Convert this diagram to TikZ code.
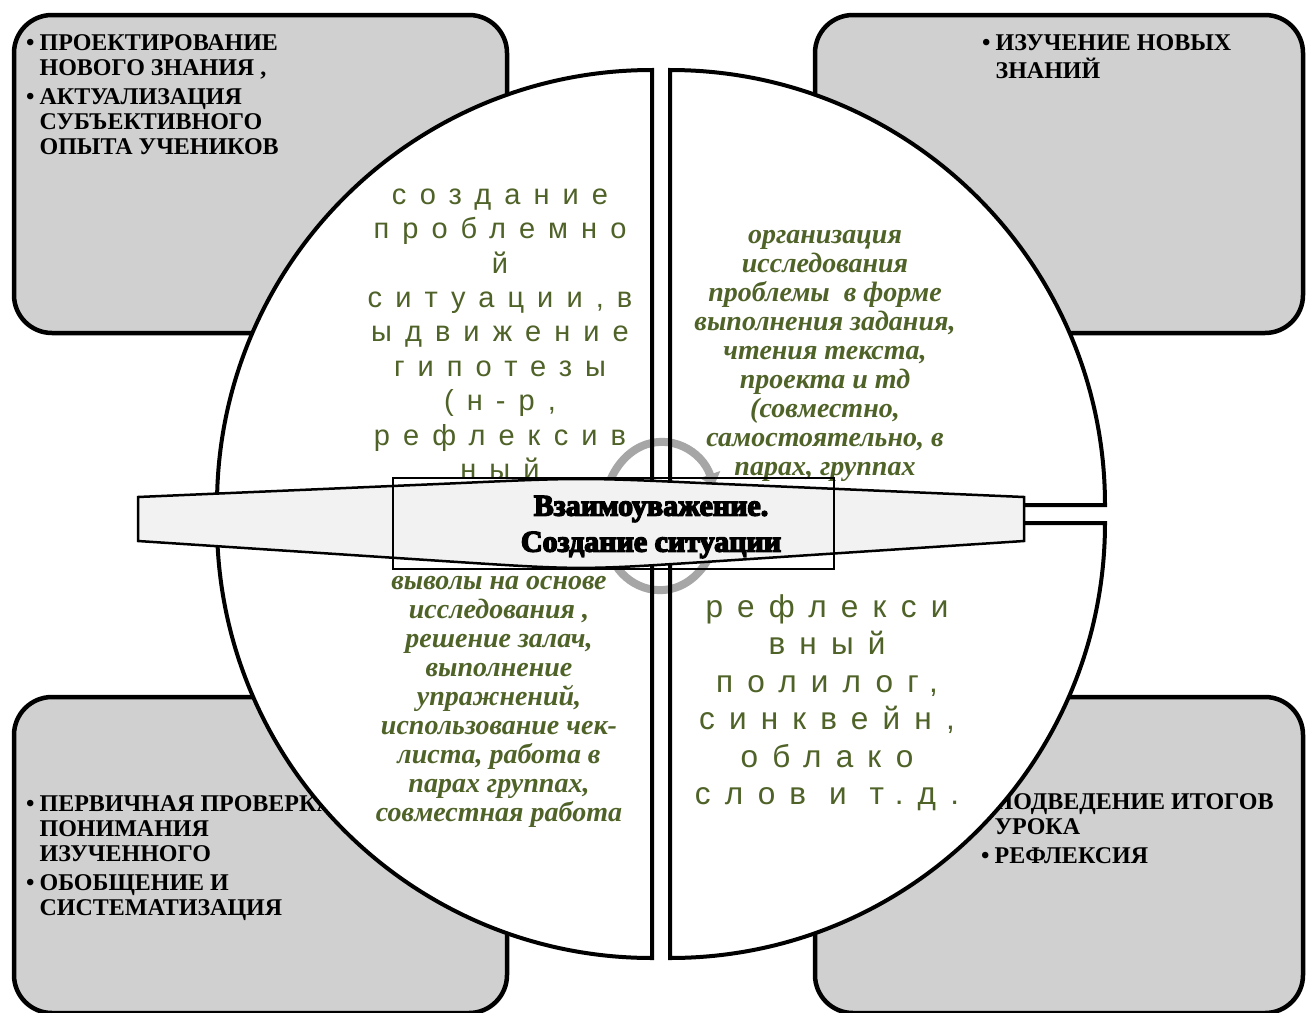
\documentclass[tikz,border=0pt]{standalone}
\usepackage{fontspec}
\setmainfont{Liberation Serif}
\newfontfamily\spacedfont{Liberation Sans}[LetterSpace=45]
\newfontfamily\outlinefont{Liberation Serif}[UprightFont={* Bold}, FakeBold=5]
\usetikzlibrary{
  arrows.meta,
  positioning
}
\definecolor{boxgray}{RGB}{208, 208, 208}
\definecolor{textolive}{RGB}{79, 98, 40}
\definecolor{cyclegray}{RGB}{166, 166, 166}
\definecolor{bandgray}{RGB}{242, 242, 242}
\tikzset{
stagebox/.style={
  draw=black,
  line width=4.5pt,
  fill=boxgray,
  rounded corners=38pt,
  outer sep=0pt
},
sectorfill/.style={
  fill=white
},
sectoredge/.style={
  draw=black,
  line width=4pt
},
boxtext/.style={
  inner sep=0pt,
  font=\fontsize{24}{25}\selectfont\bfseries
},
italictext/.style={
  anchor=base,
  inner sep=0pt,
  align=center,
  text=textolive,
  font=\fontsize{28}{28.9}\selectfont\bfseries\itshape
},
spacedtext/.style={
  anchor=base,
  inner sep=0pt,
  align=center,
  text=textolive,
  font=\spacedfont\fontsize{29}{34.4}\selectfont
},
cyclearrow/.style={
  draw=cyclegray,
  line width=8pt,
  -{Triangle[width=21pt,length=12pt]}
},
bandshape/.style={
  draw=black,
  line width=2.5pt,
  fill=bandgray
},
bandframe/.style={
  draw=black,
  line width=1.8pt,
  inner sep=0pt
},
bandtext/.style={
  align=center,
  inner sep=0pt,
  font=\outlinefont\fontsize{30}{36}\selectfont
}
}
\begin{document}
\begin{tikzpicture}[x=1pt, y=1pt]

\fill[white] (0,0) rectangle (1306,-1012);
\useasboundingbox (0,0) rectangle (1306,-1012);

% ============================================================================
% Blocos de canto
% ============================================================================

\node[stagebox, minimum width=493pt, minimum height=318pt] (tlbox) at (260.5,-174) {};
\node[boxtext, below right=17.5pt and 12pt of tlbox.north west] (tltext) {%
  \begin{tabular}{@{}l@{\hspace{5pt}}l@{}}
  \textbullet & ПРОЕКТИРОВАНИЕ\\
              & НОВОГО ЗНАНИЯ ,\\[4pt]
  \textbullet & АКТУАЛИЗАЦИЯ\\
              & СУБЪЕКТИВНОГО\\
              & ОПЫТА УЧЕНИКОВ
  \end{tabular}};

\node[stagebox, minimum width=488pt, minimum height=318pt] (trbox) at (1059,-174) {};
\node[boxtext, below right=17.5pt and 167pt of trbox.north west] (trtext) {%
  \begin{tabular}{@{}l@{\hspace{5pt}}l@{}}
  \textbullet & ИЗУЧЕНИЕ НОВЫХ\\
              & ЗНАНИЙ
  \end{tabular}};

\node[stagebox, minimum width=493pt, minimum height=316pt] (blbox) at (260.5,-855) {};
\node[boxtext, below right=96.5pt and 12pt of blbox.north west] (bltext) {%
  \begin{tabular}{@{}l@{\hspace{5pt}}l@{}}
  \textbullet & ПЕРВИЧНАЯ ПРОВЕРКА\\
              & ПОНИМАНИЯ\\
              & ИЗУЧЕННОГО\\[4pt]
  \textbullet & ОБОБЩЕНИЕ И\\
              & СИСТЕМАТИЗАЦИЯ
  \end{tabular}};

\node[stagebox, minimum width=488pt, minimum height=316pt] (brbox) at (1059,-855) {};
\node[boxtext, below right=94.5pt and 166pt of brbox.north west] (brtext) {%
  \begin{tabular}{@{}l@{\hspace{5pt}}l@{}}
  \textbullet & ПОДВЕДЕНИЕ ИТОГОВ\\
              & УРОКА\\[4pt]
  \textbullet & РЕФЛЕКСИЯ
  \end{tabular}};

% ============================================================================
% Setores do circulo
% ============================================================================

\fill[sectorfill] (652,-505) -- (652,-70) arc[start angle=90, end angle=180, radius=435] -- cycle;
\fill[sectorfill] (670,-505) -- (670,-70) arc[start angle=90, end angle=0, radius=435] -- cycle;
\fill[sectorfill] (652,-523) -- (217,-523) arc[start angle=180, end angle=270, radius=435] -- cycle;
\fill[sectorfill] (670,-523) -- (1105,-523) arc[start angle=0, end angle=-90, radius=435] -- cycle;

% Textos dos setores (base = ultima linha)
\node[spacedtext] (tlsector) at (500,-479.5) {%
  создание\\проблемно\\й\\ситуации,в\\ыдвижение\\гипотезы\\(н-р,\\рефлексив\\ный};
\node[italictext] (trsector) at (825,-475) {%
  организация\\исследования\\проблемы \ в форме\\выполнения задания,\\чтения текста,\\%
  проекта и тд\\(совместно,\\самостоятельно, в\\парах, группах};
\node[italictext] (blsector) at (499,-821) {%
  выволы на основе\\исследования ,\\решение залач,\\выполнение\\упражнений,\\%
  использование чек-\\листа, работа в\\парах группах,\\совместная работа};
\node[spacedtext, font=\spacedfont\fontsize{31.5}{37.4}\selectfont] (brsector) at (827,-804.5) {%
  рефлекси\\вный\\полилог,\\синквейн,\\облако\\слов и т.д.};

% ============================================================================
% Setas circulares
% ============================================================================

\coordinate (cyclecenter) at (661,-516);
\draw[cyclearrow] ([shift={(200:58 and 74)}]cyclecenter) arc[start angle=200, end angle=24, x radius=58, y radius=74];
\draw[cyclearrow] ([shift={(20:58 and 74)}]cyclecenter) arc[start angle=20, end angle=-156, x radius=58, y radius=74];

% Contornos dos setores
\draw[sectoredge] (652,-505) -- (652,-70) arc[start angle=90, end angle=180, radius=435] -- cycle;
\draw[sectoredge] (670,-505) -- (670,-70) arc[start angle=90, end angle=0, radius=435] -- cycle;
\draw[sectoredge] (652,-523) -- (217,-523) arc[start angle=180, end angle=270, radius=435] -- cycle;
\draw[sectoredge] (670,-523) -- (1105,-523) arc[start angle=0, end angle=-90, radius=435] -- cycle;

% ============================================================================
% Faixa central
% ============================================================================

\draw[bandshape] (138,-497) -- (450,-483.5) .. controls (581,-477.5) .. (712,-483.5) -- (1024,-497)
  -- (1024,-541) -- (712,-561.5) .. controls (581,-570) .. (450,-561.5) -- (138,-541) -- cycle;
\node[bandframe, minimum width=441pt, minimum height=91pt] (bandbox) at (613.5,-523.5) {};
\node[bandtext] (bandlabel) at (651,-527) {Взаимоуважение.\\Создание ситуации};

\end{tikzpicture}
\end{document}
